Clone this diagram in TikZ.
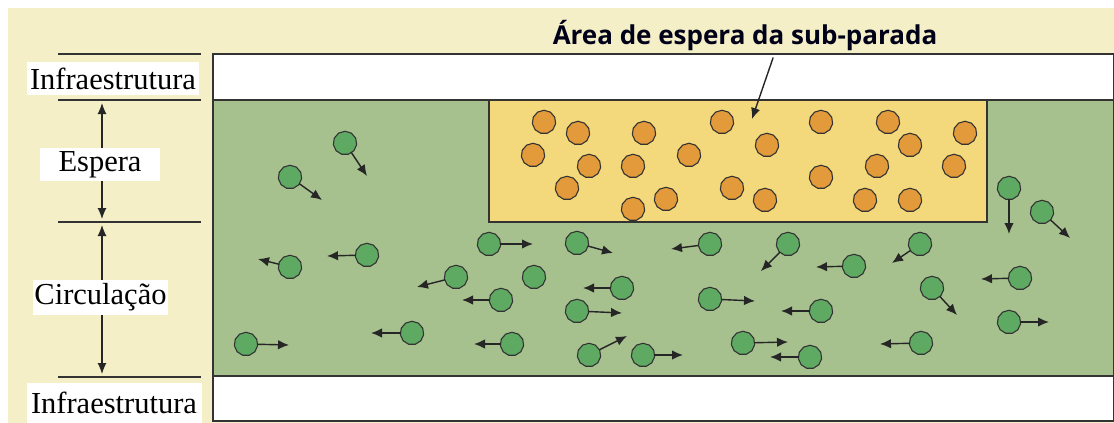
\documentclass[tikz,border=0pt]{standalone}
\usepackage{fontspec}
\setmainfont{Liberation Serif}
\newfontfamily\titlefont{Open Sans}
\usetikzlibrary{shapes.geometric,arrows.meta}
\definecolor{cream}{HTML}{F4EFC6}
\definecolor{bandgreen}{HTML}{A6C08E}
\definecolor{waityellow}{HTML}{F3D97B}
\definecolor{dotorange}{HTML}{E29A3A}
\definecolor{dotgreen}{HTML}{5FAA62}
\definecolor{frame}{HTML}{333333}
\tikzset{
  x=1pt, y=-1pt,
  dotbase/.style={regular polygon, regular polygon sides=11, minimum size=23.5pt, inner sep=0pt, draw=frame, line width=1.1pt},
  gdot/.style={dotbase, fill=dotgreen},
  odot/.style={dotbase, fill=dotorange},
  mv/.style={draw=black!85, line width=1.4pt, -{Latex[length=11pt,width=9.5pt]}, shorten <=-0.5pt},
  larr/.style={draw=black!85, line width=1.2pt, -{Latex[length=11pt,width=9pt]}},
  lbl/.style={fill=white, inner sep=0pt, font=\fontsize{30.5}{31}\selectfont},
  rule/.style={draw=black!80, line width=1.4pt},
  band/.style={draw=frame, line width=1.4pt},
}
\begin{document}
\begin{tikzpicture}
\useasboundingbox (0,0) rectangle (1114,423);
\fill[white] (0,0) rectangle (1114,423);
\fill[cream] (8,8) rectangle (1114,423);
% bands
\draw[band, fill=white] (213,54) rectangle (1113.5,100);
\draw[band, fill=bandgreen] (213,100) rectangle (1113.5,376);
\draw[band, fill=white] (213,376) rectangle (1113.5,421);
% waiting area
\draw[band, fill=waityellow] (489,100) rectangle (987,222);
% left rules
\draw[rule] (58,54) -- (201,54);
\draw[rule] (58,100) -- (201,100);
\draw[rule] (58,222) -- (201,222);
\draw[rule] (58,377) -- (201,377);
\draw[rule] (58,421) -- (201,421);
% labels
\node[lbl, minimum width=172pt, minimum height=33pt] (inf1) at (113,78.5) {Infraestrutura};
\node[lbl, minimum width=120pt, minimum height=33pt] (esp) at (100,164.5) {Espera};
\node[lbl, minimum width=135pt, minimum height=35pt] (circ) at (100.5,297.5) {Circulação};
\node[lbl, minimum width=175pt, minimum height=40pt] (inf2) at (114,403) {Infraestrutura};
% left arrows
\coordinate (ea) at (102,148); \coordinate (eat) at (102,103);
\coordinate (eb) at (102,181); \coordinate (ebt) at (102,219);
\coordinate (ca) at (102,280); \coordinate (cat) at (102,225);
\coordinate (cb) at (102,315); \coordinate (cbt) at (102,374);
\draw[larr] (ea) -- (eat);
\draw[larr] (eb) -- (ebt);
\draw[larr] (ca) -- (cat);
\draw[larr] (cb) -- (cbt);
% title
\node[font=\titlefont\bfseries\fontsize{26}{28}\selectfont, text=black!90!blue, inner sep=0pt] (title) at (745,36) {Área de espera da sub-parada};
\coordinate (tstart) at (773,58);
\coordinate (ttip) at (752,119);
\draw[mv] (tstart) -- (ttip);
% orange dots
\foreach \i/\x/\y in {1/544/122,2/578/133,3/644/133,4/722/122,5/533/155,6/589/166,7/633/166,8/689/155,9/567/188,10/732/188,11/666/199,12/633/209,13/767/145,14/821/122,15/888/122,16/910/145,17/965/133,18/821/177,19/877/166,20/954/166,21/765/200,22/865/200,23/910/200}
  \node[odot] (o\i) at (\x,\y) {};
% green dots with motion arrows
\foreach \i/\x/\y/\tx/\ty in {1/345/143/367/176,2/290/177/322/200,3/290/267/258/259,4/367/255/327/256,5/246/344/289/345,6/412/333/371/333,7/489/244/533/244,8/577/243/613/253,9/710/244/671/249,10/456/277/417/287,12/622/288/583/288,13/501/300/462/300,14/577/311/622/313,15/710/299/755/301,16/512/344/474/344,17/589/355/627/336,18/643/355/683/355,19/743/343/788/342,20/1009/188/1009/234,21/1042/212/1070/238,22/788/244/761/271,23/854/266/816/267,24/920/244/892/263,25/1020/278/981/279,26/932/288/957/315,27/821/311/781/311,28/1009/322/1049/322,29/921/343/880/344,30/810/357/770/357}
{
  \node[gdot] (g\i) at (\x,\y) {};
  \coordinate (gt\i) at (\tx,\ty);
  \draw[mv] (g\i) -- (gt\i);
}
\node[gdot] (g11) at (534,277) {};
\end{tikzpicture}
\end{document}
